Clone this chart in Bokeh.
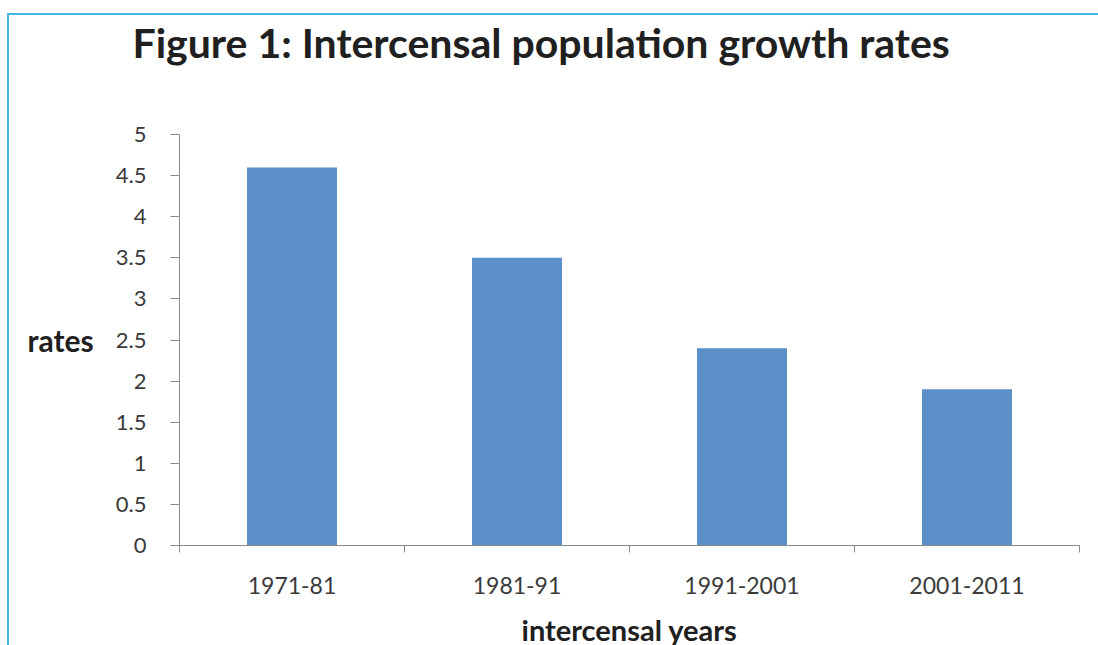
from bokeh.plotting import figure
from bokeh.models import FixedTicker, Range1d, CustomJSTickFormatter, ColumnDataSource, Title
from bokeh.embed import file_html
from bokeh.resources import INLINE

# Intercensal periods and average annual growth rates (%)
periods = ["1971-81", "1981-91", "1991-2001", "2001-2011"]
growth_rates = [4.6, 3.5, 2.4, 1.9]

# Value axis ticks
y_ticks = [0, 0.5, 1, 1.5, 2, 2.5, 3, 3.5, 4, 4.5, 5]
y_labels = ["0", "0.5", "1", "1.5", "2", "2.5", "3", "3.5", "4", "4.5", "5"]

TITLE = "Figure 1: Intercensal population growth rates"

FONT = "Lato"
BAR_COLOR = "#5b8fc8"
AXIS_COLOR = "#8a8a8a"
TEXT_COLOR = "#3a3a3a"
HEAD_COLOR = "#202020"
FRAME_BLUE = "#45b5e6"

centers = [i + 0.5 for i in range(len(periods))]
boundaries = [float(i) for i in range(len(periods) + 1)]
source = ColumnDataSource(dict(x=centers, rate=growth_rates, period=periods))

p = figure(
    frame_width=900, frame_height=411,
    x_range=Range1d(0, len(periods)), y_range=Range1d(0, 5),
    output_backend="svg", toolbar_location=None, title=None,
    min_border_left=170, min_border_right=19,
    min_border_top=119, min_border_bottom=96,
)
p.margin = (13, 0, 0, 7)
p.styles = {
    "border-top": f"2px solid {FRAME_BLUE}",
    "border-left": f"2px solid {FRAME_BLUE}",
}

p.vbar(x="x", top="rate", bottom=0, width=0.4, source=source,
       fill_color=BAR_COLOR, line_color=None)

p.xgrid.visible = False
p.ygrid.visible = False
p.outline_line_color = None
p.background_fill_color = "white"
p.border_fill_color = "white"

# Blank band between the plot area and the heading
p.add_layout(Title(text=" ", text_font_size="10px", standoff=55), "above")
# Chart heading, stacked above the blank band
p.add_layout(Title(
    text=TITLE, align="left", offset=-47, standoff=0,
    text_font=FONT, text_font_style="bold", text_font_size="41px",
    text_color=HEAD_COLOR,
), "above")

# Category axis: labels under each bar, tick marks between categories
xa = p.xaxis[0]
xa.ticker = FixedTicker(ticks=centers, minor_ticks=boundaries)
xa.formatter = CustomJSTickFormatter(args=dict(names=periods),
                                     code="return names[Math.floor(tick)];")
xa.major_tick_out = 0
xa.major_tick_in = 0
xa.minor_tick_out = 7
xa.minor_tick_in = 0
xa.minor_tick_line_color = AXIS_COLOR
xa.axis_line_color = AXIS_COLOR
xa.major_label_text_font = FONT
xa.major_label_text_font_size = "23px"
xa.major_label_text_color = TEXT_COLOR
xa.major_label_standoff = 24
xa.axis_label = "intercensal years"
xa.axis_label_text_font = FONT
xa.axis_label_text_font_style = "bold"
xa.axis_label_text_font_size = "29px"
xa.axis_label_text_color = HEAD_COLOR
xa.axis_label_standoff = 15

ya = p.yaxis[0]
ya.ticker = FixedTicker(ticks=y_ticks, minor_ticks=[])
ya.formatter = CustomJSTickFormatter(args=dict(labels=y_labels),
                                     code="return labels[Math.round(tick * 2)];")
ya.major_tick_out = 9
ya.major_tick_in = 0
ya.major_tick_line_color = AXIS_COLOR
ya.axis_line_color = AXIS_COLOR
ya.major_label_text_font = FONT
ya.major_label_text_font_size = "22px"
ya.major_label_text_color = TEXT_COLOR
ya.major_label_standoff = 24
ya.axis_label = "rates"
ya.axis_label_orientation = "horizontal"
ya.axis_label_text_font = FONT
ya.axis_label_text_font_style = "bold"
ya.axis_label_text_font_size = "30px"
ya.axis_label_text_color = HEAD_COLOR
ya.axis_label_standoff = 19

open("out.html", "w").write(file_html(p, INLINE))
